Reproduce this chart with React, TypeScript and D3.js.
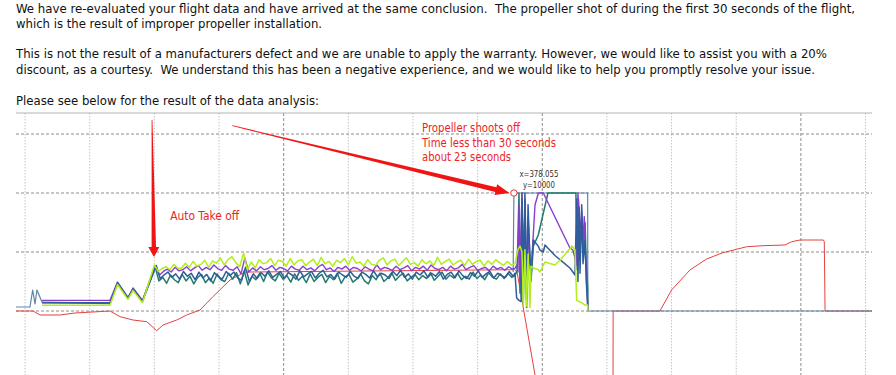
import * as d3 from 'd3';

// ---- text of the letter ----
const letterLines = [
  'We have re-evaluated your flight data and have arrived at the same conclusion.  The propeller shot of during the first 30 seconds of the flight,',
  'which is the result of improper propeller installation.',
  'This is not the result of a manufacturers defect and we are unable to apply the warranty. However, we would like to assist you with a 20%',
  'discount, as a courtesy.  We understand this has been a negative experience, and we would like to help you promptly resolve your issue.',
  'Please see below for the result of the data analysis:',
];

// ---- chart data (time, value) ----
const xTicks = [0, 50, 100, 150, 200, 250, 300, 350, 400, 450, 500, 550, 600, 650];
const majorXTicks = [200, 400, 600];
const yTicks = [0, 5000, 10000, 15000];

// in-flight samples, every 3 time units, each channel logged with its own offset
const bandStep = 3;
const limeBand = [
  3900, 3350, 3600, 3750, 3500, 3950, 3650, 3600, 4050, 3700,
  4200, 3800, 3950, 4300, 3700, 4250, 4050, 4500, 3900, 4350,
  4600, 4100, 3750, 4900, 3500, 4150, 3650, 4350, 4000, 4100,
  4450, 3850, 4300, 4200, 3800, 4450, 3900, 4250, 4350, 3850,
  4150, 4400, 3850, 4550, 4000, 4200, 3800, 4300, 4100, 4450,
  3900, 4600, 4050, 4150, 3800, 4350, 3950, 3850, 4300, 4500,
  3900, 4250, 4400, 3850, 4200, 4500, 3950, 4100, 3800, 4350,
  4000, 4250, 3850, 4550, 3950, 4200, 4400, 3900, 4150, 4300,
  3850, 4400, 3950, 4200, 4300, 3800, 4250, 3950, 4350, 4100,
  3850, 4200, 3900,
];
const purpleBand = [
  3800, 3050, 3350, 3550, 3300, 3700, 3400, 3500, 3750, 3400,
  3650, 3850, 3450, 3700, 3500, 3900, 3600, 3450, 3850, 3550,
  3450, 3750, 3150, 4500, 3300, 3650, 3400, 3750, 3500, 3600,
  3850, 3450, 3700, 3600, 3400, 3800, 3550, 3450, 3800, 3500,
  3650, 3400, 3750, 3950, 3500, 3650, 3350, 3700, 3550, 3800,
  3450, 3700, 3600, 3400, 3750, 3550, 3400, 3900, 3500, 3700,
  3600, 3450, 3800, 3500, 3650, 3850, 3400, 3700, 3550, 3800,
  3450, 3900, 3600, 3500, 3700, 3400, 3800, 3550, 3650, 3950,
  3500, 3700, 3850, 3450, 3600, 3700, 3400, 3800, 3550, 3700,
  3450, 3750, 3550,
];
const blueBand = [
  3850, 2750, 3050, 3300, 2850, 3150, 2700, 3350, 2950, 3200,
  2650, 3300, 2800, 3100, 2550, 3250, 2900, 2700, 3350, 3000,
  3300, 2800, 2600, 3700, 2500, 3150, 2750, 3250, 2950, 3400,
  2850, 3100, 3350, 2750, 3250, 3050, 2700, 3400, 2900, 3150,
  3350, 2800, 3200, 3450, 2900, 3100, 2700, 3300, 3050, 2850,
  3350, 2950, 2750, 3300, 3100, 2800, 3400, 2900, 3200, 3050,
  2750, 3350, 3000, 3450, 2850, 3150, 2700, 3300, 3050, 3400,
  2850, 3200, 2950, 3350, 2700, 3100, 3300, 2800, 3400, 3000,
  2750, 3250, 2950, 3400, 2850, 3150, 3350, 2800, 3200, 3000,
  2850, 3350, 2950,
];
const tealBand = [
  3800, 2550, 2850, 2350, 3050, 2650, 2400, 3100, 2550, 2950,
  2300, 2850, 3100, 2400, 2800, 2350, 3150, 2650, 2500, 3200,
  2700, 3250, 2300, 3400, 2200, 2950, 2650, 3200, 2500, 3300,
  2800, 2550, 3200, 2700, 3000, 2450, 3150, 2600, 2950, 2400,
  3150, 2500, 2850, 3100, 2400, 2950, 2650, 3200, 2350, 2900,
  3100, 2450, 2700, 3150, 2550, 2300, 3000, 2650, 3200, 2500,
  2800, 3250, 2600, 2950, 3200, 2550, 2850, 3100, 2650, 3000,
  2750, 3250, 2600, 2950, 3300, 2700, 3050, 2800, 3200, 2650,
  2950, 2700, 3300, 2750, 3050, 2650, 3250, 2850, 2700, 3150,
  2750, 3200, 2850,
];

const slatePre = [[-7, 339], [3.8, 339], [5.9, 1780], [7.7, 593], [9.2, 1780], [13.1, 763], [65.7, 678], [71.5, 2373], [79.6, 1102], [83.5, 1864], [90.8, 848], [100.5, 3899], [200, null]];
const tealPre = [[13.1, 720], [65.7, 640], [71.5, 2330], [79.6, 1060], [83.5, 1820], [90.8, 800]];
const bluePre = [[13.1, 700], [65.7, 690], [71.5, 2400], [79.6, 1080], [83.5, 1880], [90.8, 830]];
const purplePre = [[13.1, 900], [65.7, 900], [71.5, 2450], [79.6, 1150], [83.5, 1950], [90.8, 900]];
const limePre = [[13.1, 480], [65.7, 480], [71.5, 2250], [79.6, 980], [83.5, 1750], [90.8, 700]];

const slateCrash = [[377.5, 3300], [378.055, 10000], [435.1, 10000], [435.2, 0], [655, 0]];
const tealCrash = [[378.9, 3000], [380.5, 3400], [382.0, 10000], [382.8, 1500], [384.3, 10000], [385.3, 600], [386.6, 9000], [387.9, 300], [389.0, 8000], [390.5, 4500], [391.3, 2500], [393.1, 5500], [396.9, 6441], [404.4, 10000], [426.0, 10000], [427.0, 3500], [428.0, 9500], [429.2, 4500], [430.5, 8000], [431.5, 5000], [433.1, 7500], [434.0, 4000], [435.1, 2000], [435.2, 0]];
const limeCrash = [[378.9, 4000], [381.2, 5200], [382.8, 5500], [384.3, 5000], [385.3, 500], [386.6, 5200], [387.9, 400], [389.0, 4800], [390.5, 300], [391.3, 3800], [393.1, 3650], [396.9, 3500], [398.2, 3300], [402.1, 4150], [409.8, 3900], [413.7, 4300], [417.6, 4800], [421.4, 5300], [423.0, 5500], [425.3, 5200], [426.6, 900], [430.5, 700], [433.1, 500], [435.1, 500], [435.3, 0]];
const purpleCrash = [[378.9, 3600], [380.2, 3900], [381.2, 3300], [382.0, 9000], [382.8, 2500], [384.3, 10000], [385.3, 3500], [386.6, 9500], [387.9, 2000], [389.0, 7000], [390.5, 4000], [392.0, 4500], [394.4, 9000], [397.0, 10000], [400.8, 10000], [421.4, 5339], [423.7, 5170], [426.6, 3900], [427.6, 10000], [429.2, 6500], [430.5, 8500], [431.5, 6000], [432.5, 8000], [433.1, 5500], [434.0, 3500], [435.1, 500], [435.2, 0]];
const blueCrash = [[378.9, 3200], [380.2, 1102], [382.0, 900], [383.6, 800], [384.3, 9500], [385.3, 1500], [386.6, 10000], [387.9, 1000], [389.0, 9000], [390.5, 4200], [391.3, 3000], [393.1, 6017], [396.9, 5500], [398.2, 5170], [400.8, 5000], [402.1, 5594], [409.8, 4700], [417.6, 4000], [421.4, 3644], [423.7, 3305], [425.3, 3051], [426.6, 9500], [427.6, 2500], [428.5, 8800], [429.2, 3200], [430.5, 9000], [431.5, 4000], [433.1, 6000], [434.0, 2500], [435.1, 500], [435.3, 0]];

const redSeries = [[-7, 0], [6.2, 0], [11.6, -339], [27, -339], [38.6, -170], [65.7, 0], [73.5, -483], [83.5, -763], [94.1, -907], [101.8, -1670], [106.7, -1187], [117.3, -763], [125, -339], [135.3, 85], [145.3, 1212], [158.5, 2627], [170, 3300], [378.5, 3500], [380.5, 3300], [394.4, -5424], [397, -7600], [454.7, -7600], [454.8, 0], [491, 0], [500, 1780], [514.2, 3475], [527.1, 4407], [539.7, 4941], [550.3, 5229], [558.1, 5449], [570.7, 5534], [587.7, 5594], [592.9, 5873], [599.3, 6017], [617.4, 6017], [618.1, 5873], [618.7, 85], [619, 0], [655, 0]];

// annotations, in data coordinates
const takeoffArrow = { from: [98.2, 16187], to: [99.7, 4576] };
const shootArrow = { from: [160.3, 15704], to: [374.6, 10000] };
const takeoffLabel = { text: 'Auto Take off', at: [112.2, 7712], w: 69 };
const shootLabels = [
  { text: 'Propeller shoots off', at: [307, 15170], w: 98 },
  { text: 'Time less than 30 seconds', at: [307, 13899], w: 134 },
  { text: 'about 23 seconds', at: [307, 12712], w: 89 },
];
const cursor = { x: 378.055, y: 10000 };

const band = (vals: number[], start: number) => vals.map((v, i) => [start + i * bandStep, v]);

const series = [
  { name: 'red', color: '#e5423f', width: 1, data: redSeries },
  { name: 'slate', color: '#5d86a8', width: 1.2, data: slatePre.concat(slateCrash) },
  { name: 'teal', color: '#227c6c', width: 1.5, data: tealPre.concat(band(tealBand, 100.5), tealCrash) },
  { name: 'purple', color: '#8a3fcc', width: 1.4, data: purplePre.concat(band(purpleBand, 101), purpleCrash) },
  { name: 'blue', color: '#2f5d9c', width: 1.5, data: bluePre.concat(band(blueBand, 101.5), blueCrash) },
  { name: 'lime', color: '#b2ee1c', width: 1.5, data: limePre.concat(band(limeBand, 100), limeCrash) },
];

const W = 896;
const H = 375;
const plot = { left: 16, right: 872, top: 113 };
const textLayout = { x: 16, baselines: [13, 28, 57.5, 73.5, 104.5], widths: [839, 306, 811, 799, 303] };
const font = "Tahoma, 'DejaVu Sans Condensed', 'DejaVu Sans', sans-serif";

function arrowPath(p0: number[], p1: number[], tailW: number, shaftW: number, headL: number, headW: number) {
  const dx = p1[0] - p0[0];
  const dy = p1[1] - p0[1];
  const len = Math.hypot(dx, dy);
  const ux = dx / len, uy = dy / len;
  const nx = -uy, ny = ux;
  const bx = p1[0] - ux * headL, by = p1[1] - uy * headL;
  const pts = [
    [p0[0] + nx * tailW, p0[1] + ny * tailW],
    [bx + nx * shaftW, by + ny * shaftW],
    [bx + nx * headW, by + ny * headW],
    [p1[0], p1[1]],
    [bx - nx * headW, by - ny * headW],
    [bx - nx * shaftW, by - ny * shaftW],
    [p0[0] - nx * tailW, p0[1] - ny * tailW],
  ];
  return 'M' + pts.map((p) => p.join(',')).join('L') + 'Z';
}

export default function App() {
  const x = d3.scaleLinear().domain([-7, 655]).range([plot.left, plot.right]);
  const y = d3.scaleLinear().domain([-5500, 16780]).range([375.9, plot.top]);

  const line = d3
    .line<any>()
    .defined((d) => d[1] != null)
    .x((d) => x(d[0]))
    .y((d) => y(d[1]));

  const px = (p: number[]) => [x(p[0]), y(p[1])];

  return (
    <svg
      width={W}
      height={H}
      style={{ position: 'absolute', left: 0, top: 0, background: '#fff' }}
      fontFamily={font}
    >
      {/* letter text */}
      {letterLines.map((t, i) => (
        <text
          key={i}
          x={textLayout.x}
          y={textLayout.baselines[i]}
          fontSize={12}
          fill='#111'
          textLength={textLayout.widths[i]}
          lengthAdjust='spacingAndGlyphs'
          style={{ whiteSpace: 'pre' }}
        >
          {t}
        </text>
      ))}

      {/* grid */}
      {xTicks.map((t) => {
        const major = majorXTicks.includes(t);
        return (
          <line
            key={'vx' + t}
            x1={x(t)}
            x2={x(t)}
            y1={plot.top}
            y2={H}
            stroke={major ? '#8c8c8c' : '#c4c4c4'}
            strokeDasharray={major ? '3,2' : '1.5,1.5'}
            strokeWidth={1}
          />
        );
      })}
      {yTicks.map((t) => (
        <line
          key={'hy' + t}
          x1={plot.left}
          x2={plot.right}
          y1={y(t)}
          y2={y(t)}
          stroke='#8c8c8c'
          strokeDasharray='3,2'
        />
      ))}
      <line x1={plot.left} x2={plot.right} y1={plot.top} y2={plot.top} stroke='#b4b4b4' />

      {/* series */}
      {series.map((s) => (
        <path key={s.name} d={line(s.data as any) || ''} fill='none' stroke={s.color} strokeWidth={s.width} strokeLinejoin='round' />
      ))}

      {/* cursor */}
      <circle cx={x(cursor.x)} cy={y(cursor.y)} r={3.2} fill='#fff' stroke='#e03a3a' strokeWidth={1} />
      <text x={x(cursor.x) + 25} y={y(cursor.y) - 16} fontSize={8.5} fill='#333' textAnchor='middle' textLength={39} lengthAdjust='spacingAndGlyphs'>
        {'x=' + cursor.x}
      </text>
      <text x={x(cursor.x) + 25} y={y(cursor.y) - 5.5} fontSize={8.5} fill='#333' textAnchor='middle' textLength={32} lengthAdjust='spacingAndGlyphs'>
        {'y=' + cursor.y}
      </text>

      {/* annotations */}
      <path d={arrowPath(px(takeoffArrow.from), px(takeoffArrow.to), 0.4, 2.2, 10, 5.5)} fill='#f01414' />
      <path d={arrowPath(px(shootArrow.from), px(shootArrow.to), 0.4, 2.4, 14, 5.5)} fill='#f01414' />
      <text
        x={x(takeoffLabel.at[0])}
        y={y(takeoffLabel.at[1])}
        fontSize={12}
        fill='#ee2424'
        textLength={takeoffLabel.w}
        lengthAdjust='spacingAndGlyphs'
      >
        {takeoffLabel.text}
      </text>
      {shootLabels.map((l) => (
        <text
          key={l.text}
          x={x(l.at[0])}
          y={y(l.at[1])}
          fontSize={12}
          fill='#ee2424'
          textLength={l.w}
          lengthAdjust='spacingAndGlyphs'
        >
          {l.text}
        </text>
      ))}
    </svg>
  );
}
